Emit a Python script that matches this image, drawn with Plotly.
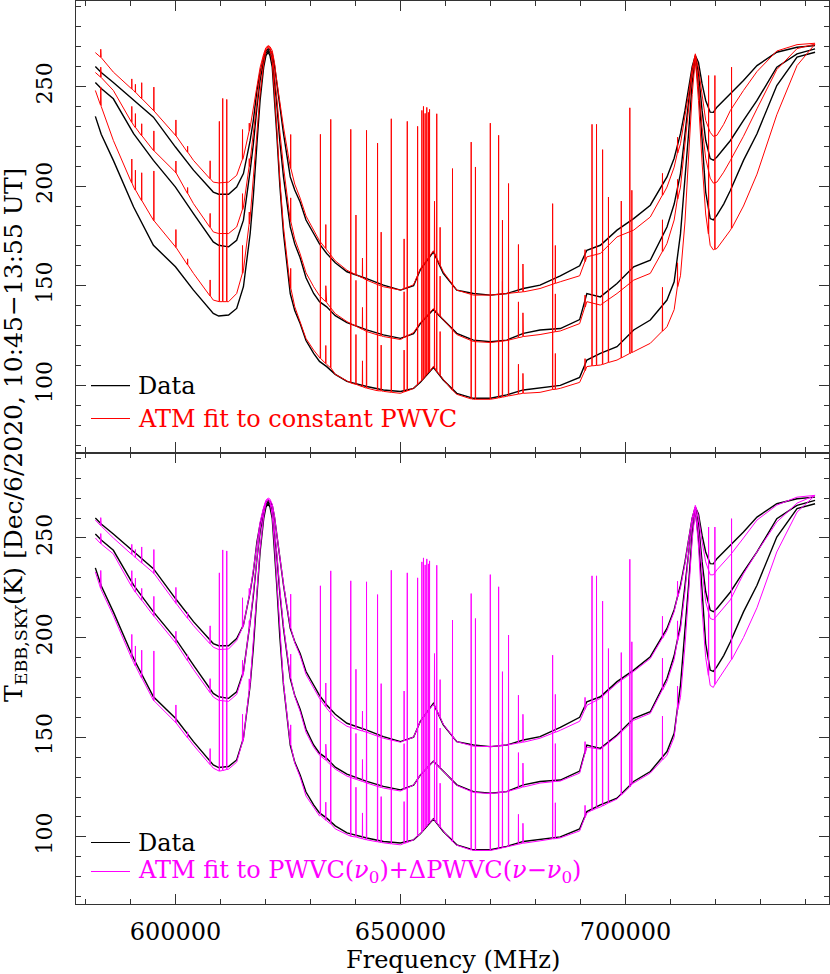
import plotly.graph_objects as go
from plotly.subplots import make_subplots

# continuum knots (MHz), shared by every curve
FREQ = [582200, 583500, 586200, 590700, 595100, 600000, 604000, 608400, 609600, 611800,
        613600, 615100, 616600, 617300, 618100, 618800, 619600, 620100, 620600, 621000,
        621500, 622000, 622500, 623200, 624000, 625500, 626500, 627700, 629000, 630700,
        632000, 633600, 635500, 638100, 642500, 646200, 650000, 652900, 654400, 657300,
        659500, 662500, 666200, 670000, 673600, 677300, 681000, 685500, 689800, 691400,
        694400, 698100, 701800, 705500, 709200, 710800, 712200, 713200, 714000, 714800,
        715500, 716200, 717000, 717800, 718800, 719500, 720300, 721800, 723300, 726200,
        729200, 733600, 738100, 742100]

# measured sky temperatures (K), three scans
DATA_A = [260, 257, 252, 243, 234.6, 219.6, 208, 197, 195.9, 195.9,
          199.5, 206.3, 222.9, 233, 248, 257, 264.7, 267.8, 268.9, 268.3,
          266.4, 260.5, 251.4, 239, 226.3, 204.6, 198, 192, 183, 176.2,
          171, 166.2, 161.5, 157, 153.6, 150.3, 147.8, 150, 158, 167,
          156.2, 147.8, 146.1, 145.3, 146.1, 148.6, 150.3, 155, 160, 167.8,
          170.3, 177.9, 183.7, 190.4, 204.6, 214, 226.3, 238, 249.7, 260,
          265.5, 262, 251.4, 243, 237.1, 237, 239.6, 243, 246.3, 253,
          260.5, 267.2, 269.7, 270.5]
DATA_B = [252, 249, 243.8, 226.3, 212.9, 199.5, 186.2, 172, 170.3, 169.5,
          172.8, 182.9, 207.9, 221, 239.6, 253, 263, 266.8, 268, 267,
          263.9, 254, 241.3, 222, 204.6, 179.5, 171, 164, 154, 146.1,
          142, 139.4, 135, 131.5, 127.8, 125.3, 123.6, 126, 131, 138,
          132.8, 126.1, 122.7, 121.9, 122.7, 126.1, 127.8, 128.5, 133, 146.1,
          144.4, 151.1, 159.5, 162.8, 179.5, 191, 206.3, 225, 243, 258,
          264.7, 257, 238, 223, 213.8, 213, 214.6, 218.5, 222.9, 233,
          243, 259.7, 266.4, 268.9]
DATA_C = [235, 226, 212.9, 189.5, 170.3, 159.5, 147.8, 136.1, 134.8, 135.3,
          138.6, 149.5, 176.2, 195, 221.3, 243, 259.7, 265.5, 267.2, 265.5,
          259.7, 245, 226.3, 200, 176.2, 146.1, 137.5, 131, 122.5, 116,
          112, 109.4, 105.5, 102, 99.4, 97.7, 96.9, 98.5, 101.5, 109,
          102.7, 96, 93.5, 93.5, 95.2, 97.7, 98.6, 100, 104, 112.7,
          116, 119.4, 127.8, 132.8, 142.8, 152, 176, 203, 226.3, 252,
          263.9, 250, 221, 197, 183.7, 183, 185.4, 191, 197.9, 212.9,
          226.3, 250.5, 264.7, 267.2]

# ATM fit to constant PWVC (top panel)
RED_A = [267, 264.5, 257.2, 248, 238, 225.5, 212.9, 202, 201.6, 202,
         205.4, 214.6, 229.6, 239, 251.4, 259.5, 266.4, 269.5, 270.5, 270,
         268, 262, 253, 241, 229.6, 209.6, 201, 194, 185, 177.9,
         172.5, 168, 162.5, 157.8, 152.8, 149.5, 147.8, 150.5, 158.5, 167.5,
         157, 147.8, 145.3, 145.3, 146.1, 146.9, 148.6, 152, 155, 164.5,
         166.2, 174.5, 177.9, 184.5, 199.5, 209.5, 221.3, 234, 246.3, 259,
         266.4, 259, 244.6, 233, 227, 225, 225.5, 231, 238, 248,
         257.5, 267.8, 271, 271.7]
RED_B = [257, 254.5, 248, 230.5, 217.9, 207, 191.2, 177, 176.2, 176.2,
         179.5, 189.5, 212.9, 226.5, 243, 256, 265, 269, 270.3, 269.5,
         266, 256.5, 244.6, 227, 209.6, 182.9, 173.5, 166, 156.5, 149.5,
         145, 141.5, 136, 132, 127, 124.5, 123, 126.5, 131.5, 138.5,
         133, 125.5, 122, 121.5, 122.5, 124.5, 125.5, 127.3, 131, 142,
         140.3, 146.1, 152.8, 156.2, 171.2, 183, 199.5, 220, 238, 256,
         265.5, 251, 229.6, 214, 204, 201.5, 202, 207, 212.9, 225,
         238.8, 258.5, 269, 271.3]
RED_C = [248, 240, 222.9, 199.5, 182.9, 169.5, 156.2, 142.8, 142, 142,
         146.1, 157.8, 184.5, 203, 226.3, 246.5, 261.4, 268, 270, 268.5,
         262.2, 248, 229.6, 203, 179.5, 149.5, 139.5, 132, 123.5, 117.7,
         113.5, 110.5, 105.5, 102, 98.6, 97, 96, 98.5, 102, 109.5,
         103, 95.5, 93, 93, 94.5, 96, 96.5, 98.5, 101.5, 109.4,
         110.2, 112.7, 116.9, 121.1, 129.4, 138, 155, 182, 214.6, 246,
         263.9, 243, 212, 186, 170.3, 168, 168.7, 173, 177.9, 190,
         206, 235.8, 260.5, 271.3]

# ATM fit to PWVC(nu0) + dPWVC(nu - nu0) (bottom panel)
MAG_A = [259, 256, 250, 241, 232.5, 217.5, 206, 195.2, 194, 194.3,
         198.5, 206, 223, 234, 249, 258, 265.5, 269, 270, 269.5,
         267, 261, 252, 239.5, 227, 205.5, 197.5, 191, 181.5, 174.5,
         169.5, 164.5, 159.5, 155.5, 152.5, 149.5, 147.5, 150, 158, 166.5,
         156.5, 147.8, 145.5, 145.3, 146.1, 147.5, 149.5, 153.5, 158, 166,
         169.5, 177, 183, 189.5, 203.5, 213, 225, 237, 249, 260,
         266.4, 261, 248, 238, 231.5, 231.5, 234, 238, 241.5, 250,
         259, 266.5, 270.5, 271.4]
MAG_B = [250, 247, 242, 224, 211, 197.5, 184, 170.2, 168.5, 168,
         171.5, 182, 208, 222, 241, 254.5, 264, 268.3, 269.5, 268.5,
         265, 255, 243, 224, 206, 180.5, 170.5, 163, 152.5, 145,
         141, 138, 134, 130.5, 127, 124.5, 123, 126, 131, 138,
         133, 125.8, 122.3, 121.7, 122.7, 125, 127, 128, 132, 145,
         144, 150.5, 158.5, 162, 178, 189, 204, 223, 241.5, 257.5,
         265.5, 254, 234, 218, 209.6, 209, 211, 215, 219, 232,
         243, 258, 267.5, 271.4]
MAG_C = [233, 224, 211, 187.5, 168.5, 157.5, 146, 134.5, 133, 134,
         137.5, 149, 177, 197, 223, 244.5, 261, 267.5, 269.5, 268,
         261, 246.5, 228, 201.5, 177, 147, 137, 130, 120.5, 114.5,
         110.5, 108, 104, 101, 98.5, 97, 96, 98.5, 101.5, 109,
         103, 95.8, 93.2, 93.2, 95, 96.8, 98, 99.5, 103, 112,
         115, 119, 127, 132, 141, 150, 170, 196, 222, 249,
         264, 246, 214, 190, 176, 175, 178, 183, 188, 200,
         215, 243, 263, 271.4]

# saturated lines: one spike from the lowest fit curve up to the common top
SAT_FREQ = [609750, 610500, 611400, 632200, 634500, 638950, 642450, 644900, 647950, 651500,
            653800, 654750, 655100, 655470, 655840, 656200, 656450, 658050, 661550, 665700,
            666650, 669950, 671800, 674000, 683800, 692550, 693550, 694900, 696200, 699050,
            700950, 701400, 718450, 719850, 723550]
SAT_PEAK = [232.5, 244, 243.5, 226, 233.5, 228.5, 228, 221.6, 233.8, 232.5,
            230, 238, 240, 236.5, 239.5, 237, 238.5, 236.3, 208.8, 222.1,
            209.6, 231.6, 225.5, 201.3, 191.2, 231, 231, 218.3, 194.5, 192.5,
            239.3, 197.9, 255.5, 255.5, 259.7]
SAT_FOOT_RED = [142, 142, 142, 113.5, 108.8, 101.2, 98.6, 97.3, 96.5, 97.2,
                100.5, 102.5, 103.5, 104.5, 105.5, 106.5, 107, 107, 97.5, 93.2,
                93, 93, 93.7, 94.7, 97.9, 109.8, 110, 110.5, 111.5, 113.8,
                116, 116.5, 176, 168.3, 178.8]
SAT_FOOT_MAG = [133, 133.3, 133.8, 110.8, 106.5, 100.3, 98.5, 97.5, 96.5, 97.2,
                100.5, 102.5, 103.5, 104.5, 105.5, 106.5, 107, 107, 97.6, 93.4,
                93.2, 93.2, 94, 95.2, 99, 113.3, 114.3, 115.5, 117, 121,
                125, 126.5, 181, 176.5, 189]

# weaker lines: each fit curve gets its own small spike (rise above its foot, K)
WEAK_FREQ = [583400, 590300, 591100, 592500, 595200, 600100, 602700, 607700, 614900, 616400,
             625600, 633400, 640100, 641550, 645700, 650800, 657550, 658800, 672650, 676200,
             677200, 684400, 691000, 708200, 711550]
WEAK_RISE_A = [4, 5, 4, 8, 12, 8, 3, 9, 15, 4, 17, 12, 30, 10, 27, 25, 26, 19, 37, 24, 14, 19, 6, 11, 8]
WEAK_RISE_B = [5, 8, 7, 6, 10, 6, 3, 7, 8, 4, 12, 8, 23, 11, 25, 23, 28, 20, 30, 18, 12, 19, 6, 16, 10]
WEAK_RISE_C = [9, 12, 10, 14, 25, 9, 3, 8, 14, 6, 10, 9, 25, 13, 23, 21, 30, 22, 28, 15, 10, 18, 6, 22, 12]
WEAK_FOOT_RED_A = [264.7, 248.8, 247.1, 243.9, 237.7, 225.2, 217, 203.7, 213.4, 227.6, 208.9, 168.7, 155.5,
                   153.9, 149.9, 148.5, 166.4, 160.3, 145.9, 146.7, 146.9, 151.2, 162.1, 195.4, 216.6]
WEAK_FOOT_RED_B = [254.7, 232, 229.4, 225.3, 217.7, 206.6, 196.3, 179.3, 188.2, 209.8, 182.1, 142, 129.7,
                   128.1, 124.8, 124, 137.9, 134.8, 122.2, 123.9, 124.4, 126.9, 139.3, 167.1, 193.4]
WEAK_FOOT_RED_C = [240.6, 201.6, 198, 192.7, 182.6, 169.2, 160.5, 144.9, 156.2, 181, 148.7, 111, 100.5,
                   99.3, 97.2, 96.7, 108.8, 105, 94.1, 95.6, 96, 98, 107.4, 127.2, 149.5]
WEAK_FOOT_MAG_A = [256.2, 241.8, 240.2, 237.5, 232.2, 217.2, 209.7, 196.9, 205, 220.7, 204.8, 165.2, 154.1,
                   153.1, 149.9, 148.2, 166, 159.9, 145.9, 147.1, 147.5, 152.5, 164, 199.7, 220.3]
WEAK_FOOT_MAG_B = [247.2, 225.6, 222.8, 218.7, 210.7, 197.2, 188.4, 172.4, 180.6, 204.5, 179.7, 138.5, 128.9,
                   127.8, 124.8, 123.8, 137.5, 134.6, 122.4, 124.3, 125, 127.8, 141.8, 173.7, 198.4]
WEAK_FOOT_MAG_C = [224.7, 189.6, 185.8, 179.7, 168.3, 157.2, 149.7, 136.3, 147.5, 173.3, 146.2, 108.4, 99.9,
                   99, 97.2, 96.7, 108.5, 104.9, 94.5, 96.3, 96.8, 99.1, 109.8, 138.6, 163.7]

HALF = 40  # half width of a drawn spike, MHz


def fit_curve(cont, weak_foot, weak_rise, sat_foot=None):
    pts = list(zip(FREQ, cont))
    for f, foot, rise in zip(WEAK_FREQ, weak_foot, weak_rise):
        pts += [(f - HALF, foot), (f, foot + rise), (f + HALF, foot)]
    if sat_foot is not None:
        for f, foot, top in zip(SAT_FREQ, sat_foot, SAT_PEAK):
            pts += [(f - HALF, foot), (f, top), (f + HALF, foot)]
    pts.sort()
    return [p[0] for p in pts], [p[1] for p in pts]


FONT = "DejaVu Serif"
fig = make_subplots(rows=2, cols=1, shared_xaxes=True, vertical_spacing=0)

panels = [
    (1, "#ff0000", [(RED_A, WEAK_FOOT_RED_A, WEAK_RISE_A, None),
                    (RED_B, WEAK_FOOT_RED_B, WEAK_RISE_B, None),
                    (RED_C, WEAK_FOOT_RED_C, WEAK_RISE_C, SAT_FOOT_RED)]),
    (2, "#ff00ff", [(MAG_A, WEAK_FOOT_MAG_A, WEAK_RISE_A, None),
                    (MAG_B, WEAK_FOOT_MAG_B, WEAK_RISE_B, None),
                    (MAG_C, WEAK_FOOT_MAG_C, WEAK_RISE_C, SAT_FOOT_MAG)]),
]
for row, color, fits in panels:
    for d in (DATA_A, DATA_B, DATA_C):
        fig.add_trace(go.Scatter(x=FREQ, y=d, mode="lines", showlegend=False,
                                 line=dict(color="black", width=1.4)), row=row, col=1)
    for cont, foot, rise, sat in fits:
        x, y = fit_curve(cont, foot, rise, sat)
        fig.add_trace(go.Scatter(x=x, y=y, mode="lines", showlegend=False,
                                 line=dict(color=color, width=1)), row=row, col=1)

axis_style = dict(showline=True, linecolor="#333", linewidth=1.2, mirror="allticks",
                  ticks="inside", ticklen=10, tickwidth=1, tickcolor="#333",
                  showgrid=False, zeroline=False, automargin=False)
fig.update_xaxes(range=[577900, 745200], tick0=0, dtick=50000, tickformat="d",
                 tickfont=dict(family=FONT, size=24, color="black"),
                 minor=dict(ticks="inside", ticklen=5, dtick=10000, tickcolor="#333"),
                 **axis_style)
fig.update_xaxes(showticklabels=False, row=1, col=1)
fig.update_xaxes(ticklabelstandoff=6, row=2, col=1)
fig.update_yaxes(range=[66.3, 292.9], tick0=0, dtick=50, tickangle=-90,
                 ticklabelstandoff=14,
                 tickfont=dict(family=FONT, size=22, color="black"),
                 minor=dict(ticks="inside", ticklen=5, dtick=10, tickcolor="#333"),
                 **axis_style)

# hand-drawn legends (line sample + coloured text) in each panel
W, H, L, B = 753.0, 903.0, 76.0, 904.0


def px_x(px):
    return (px - L) / W


def px_y(py):
    return (B - py) / H


legend_rows = [
    (385.7, "black", "Data"),
    (418.5, "#ff0000", "ATM fit to constant PWVC"),
    (842.5, "black", "Data"),
    (871.5, "#ff00ff", "ATM fit to PWVC(<i>ν</i><sub>0</sub>)+ΔPWVC(<i>ν</i>−<i>ν</i><sub>0</sub>)"),
]
for py, color, text in legend_rows:
    fig.add_shape(type="line", xref="paper", yref="paper",
                  x0=px_x(91), x1=px_x(130), y0=px_y(py), y1=px_y(py),
                  line=dict(color=color, width=1.2))
    fig.add_annotation(xref="paper", yref="paper", x=px_x(136), y=px_y(py),
                       xanchor="left", yanchor="middle", showarrow=False, text=text,
                       font=dict(family=FONT, size=24, color=color))

# axis titles
fig.add_annotation(xref="paper", yref="paper", x=0.5, y=px_y(959.5),
                   xanchor="center", yanchor="middle", showarrow=False,
                   text="Frequency (MHz)",
                   font=dict(family=FONT, size=24, color="black"))
fig.add_annotation(xref="paper", yref="paper", x=px_x(15), y=px_y(435),
                   xanchor="center", yanchor="middle", textangle=-90, showarrow=False,
                   text="T<sub>EBB,SKY</sub>(K) [Dec/6/2020, 10:45−13:55 UT]",
                   font=dict(family=FONT, size=25, color="black"))

fig.update_layout(width=830, height=974, margin=dict(l=76, r=1, t=1, b=70),
                  plot_bgcolor="white", paper_bgcolor="white",
                  font=dict(family=FONT, color="black"), showlegend=False)

# the page's default body margin would shift the figure by 8 px
fig.write_html("out.html", config={"displayModeBar": False},
               post_script="document.body.style.margin='0px';")
